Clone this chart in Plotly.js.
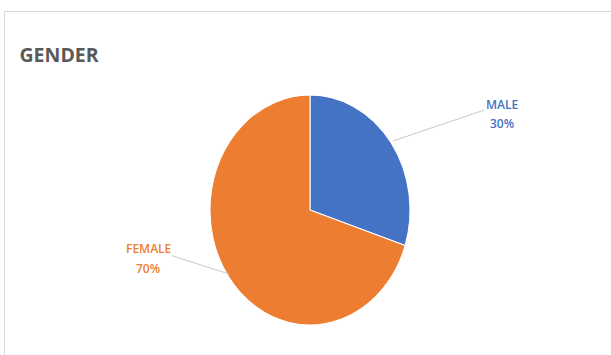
<!DOCTYPE html>
<html>
<head>
<meta charset="utf-8">
<script src="https://cdn.plot.ly/plotly-3.0.1.min.js"></script>
<style>
  html, body { margin: 0; padding: 0; background: #ffffff; }
  #chart { width: 611px; height: 355px; }
</style>
</head>
<body>
<div id="chart"></div>
<script>
const chartTitle = "GENDER";
const categories = ["MALE", "FEMALE"];
const percentages = [30, 70];
const colors = ["#4472C4", "#ED7D31"];

const W = 611, H = 355;
const px = v => v / W;
const py = v => 1 - v / H;

// pie placement (circle, later stretched vertically to match the oval look)
const cx = 310, cy = 210, r = 100;

const trace = {
  type: "pie",
  labels: categories,
  values: percentages,
  sort: false,
  direction: "clockwise",
  rotation: 0,
  textinfo: "none",
  hoverinfo: "skip",
  marker: { colors: colors, line: { color: "#ffffff", width: 1 } },
  domain: { x: [px(cx - r), px(cx + r)], y: [py(cy + r), py(cy - r)] },
  showlegend: false
};

// label positions (name centre, percent centre, leader-line anchor on pie edge)
const labelPos = [
  { nx: 502, ny: 104, py_: 123, ex: 393, ey: 141 },
  { nx: 148, ny: 248, py_: 268, ex: 229, ey: 274 }
];

const annotations = [];
categories.forEach((c, i) => {
  const p = labelPos[i];
  annotations.push({
    xref: "paper", yref: "paper",
    x: px(p.ex), y: py(p.ey),
    ax: p.nx - p.ex, ay: p.ny - p.ey,
    text: c,
    showarrow: true, arrowhead: 0, arrowwidth: 1, arrowcolor: "#c9c9c9",
    standoff: 0, startstandoff: 0,
    font: { family: "Open Sans, Liberation Sans, sans-serif", size: 12, color: colors[i], weight: 600 }
  });
  annotations.push({
    xref: "paper", yref: "paper",
    x: px(p.nx), y: py(p.py_),
    xanchor: "center", yanchor: "middle",
    text: percentages[i] + "%",
    showarrow: false,
    font: { family: "Open Sans, Liberation Sans, sans-serif", size: 12, color: colors[i], weight: 600 }
  });
});

const layout = {
  width: W, height: H,
  margin: { l: 0, r: 0, t: 0, b: 0 },
  paper_bgcolor: "#ffffff",
  title: {
    text: chartTitle,
    x: px(19.5), xanchor: "left", xref: "paper",
    y: py(55.5), yanchor: "middle", yref: "paper",
    font: { family: "Open Sans, Liberation Sans, sans-serif", size: 19.5, color: "#595959", weight: 700 }
  },
  shapes: [{
    type: "rect", xref: "paper", yref: "paper",
    x0: px(4.5), x1: 1.2, y0: -0.2, y1: py(11.5),
    line: { color: "#d9d9d9", width: 1 }, fillcolor: "rgba(0,0,0,0)", layer: "below"
  }],
  annotations: annotations
};

Plotly.newPlot("chart", [trace], layout, { staticPlot: true, displayModeBar: false }).then(() => {
  const g = document.querySelector(".pielayer .trace");
  if (g) {
    const bb = g.getBBox();
    const c = bb.y + bb.height / 2;
    g.setAttribute("transform", `translate(0,${c}) scale(1,1.15) translate(0,${-c})`);
  }
});
</script>
</body>
</html>
